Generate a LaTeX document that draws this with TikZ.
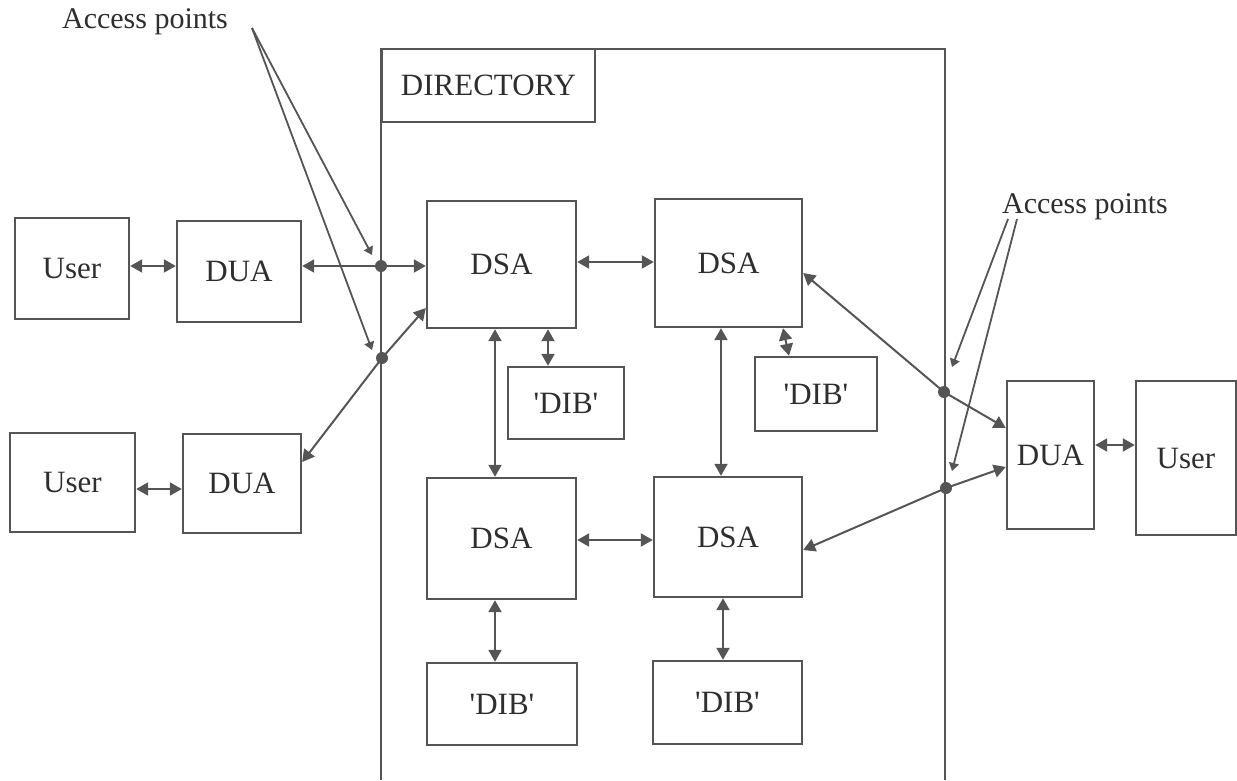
\documentclass[tikz,border=0pt]{standalone}
\usepackage{fontspec}
\setmainfont{Liberation Serif}
\usetikzlibrary{arrows.meta,calc}
\definecolor{ink}{HTML}{555555}
\definecolor{txt}{HTML}{2E2E2E}
\newcommand{\dibname}{\textquotesingle DIB\textquotesingle}
\tikzset{
  blk/.style={draw=ink, line width=2.4pt, text=txt, inner sep=0pt,
              font=\fontsize{31}{34}\selectfont},
  lbl/.style={text=txt, inner sep=0pt, font=\fontsize{30}{33}\selectfont},
  link/.style={draw=ink, line width=2pt,
               {Triangle[length=12pt,width=13pt]}-{Triangle[length=12pt,width=13pt]}},
  ptr/.style={draw=ink, line width=1.8pt, -{Triangle[length=8pt,width=10pt]}},
  apdot/.style={circle, fill=ink, inner sep=0pt, minimum size=12pt},
}
\begin{document}
\begin{tikzpicture}[x=1pt,y=-1pt]
\useasboundingbox (0,0) rectangle (1237,780);

% directory enclosure, open at the bottom
\draw[ink, line width=1.8pt] (381,780) -- (381,49) -- (945,49) -- (945,780);
\node[blk, minimum width=213pt, minimum height=73pt] (dirlabel) at (488.5,85.5) {DIRECTORY};

% users and user agents
\node[blk, minimum width=114pt, minimum height=101pt] (user1) at (72,268.5) {User};
\node[blk, minimum width=124pt, minimum height=101pt] (dua1) at (239,271.5) {DUA};
\node[blk, minimum width=125pt, minimum height=99pt] (user2) at (72.5,482.5) {User};
\node[blk, minimum width=118pt, minimum height=99pt] (dua2) at (242,483.5) {DUA};
\node[blk, minimum width=87pt, minimum height=148pt] (dua3) at (1050.5,455) {DUA};
\node[blk, minimum width=100pt, minimum height=154pt] (user3) at (1186,458) {User};

% system agents
\node[blk, minimum width=149pt, minimum height=127pt] (dsa1) at (501.5,264.5) {DSA};
\node[blk, minimum width=147pt, minimum height=128pt] (dsa2) at (728.5,263) {DSA};
\node[blk, minimum width=149pt, minimum height=121pt] (dsa3) at (501.5,538.5) {DSA};
\node[blk, minimum width=148pt, minimum height=120pt] (dsa4) at (728,537) {DSA};

% information bases
\node[blk, minimum width=116pt, minimum height=72pt] (dib1) at (566,403) {\dibname};
\node[blk, minimum width=122pt, minimum height=74pt] (dib2) at (816,394) {\dibname};
\node[blk, minimum width=150pt, minimum height=82pt] (dib3) at (502,704) {\dibname};
\node[blk, minimum width=149pt, minimum height=83pt] (dib4) at (727.5,702.5) {\dibname};

% access points on the enclosure
\coordinate (apL1) at (381,266);
\coordinate (apL2) at (382,358);
\coordinate (apR1) at (944,392);
\coordinate (apR2) at (946,488);

% links
\draw[link] (user1.east |- 0,266) -- (dua1.west |- 0,266);
\draw[link] (user2.east |- 0,489) -- (dua2.west |- 0,489);
\draw[link] (dua3.east |- 0,445) -- (user3.west |- 0,445);
\draw[link] (dua1.east |- 0,266) -- (apL1) -- (dsa1.west |- 0,266);
\draw[link] (dua2.east |- 0,462) -- (apL2) -- (dsa1.west |- 0,308);
\draw[link] (dsa2.east |- 0,273) -- (apR1) -- (dua3.west |- 0,428);
\draw[link] (dsa4.east |- 0,550) -- (apR2) -- (dua3.west |- 0,467);
\draw[link] (dsa1.east |- 0,262) -- (dsa2.west |- 0,262);
\draw[link] (dsa3.east |- 0,540) -- (dsa4.west |- 0,540);
\draw[link] (dsa1.south -| 495,0) -- (dsa3.north -| 495,0);
\draw[link] (dsa2.south -| 721,0) -- (dsa4.north -| 721,0);
\draw[link] (dsa1.south -| 548,0) -- (dib1.north -| 548,0);
\draw[link] (dsa2.south -| 783,0) -- (dib2.north -| 789,0);
\draw[link] (dsa3.south -| 495,0) -- (dib3.north -| 495,0);
\draw[link] (dsa4.south -| 723,0) -- (dib4.north -| 723,0);

\node[apdot] (dotL1) at (apL1) {};
\node[apdot] (dotL2) at (apL2) {};
\node[apdot] (dotR1) at (apR1) {};
\node[apdot] (dotR2) at (apR2) {};

% access point labels and pointers
\node[lbl] (apLtxt) at (145,22) {Access points};
\node[lbl] (apRtxt) at (1085,207) {Access points};
\coordinate (apLsrc) at (252,28);
\coordinate (apLtipA) at (372,255);
\coordinate (apLtipB) at (372,350);
\coordinate (apRsrcA) at (1008,219);
\coordinate (apRsrcB) at (1017,219);
\coordinate (apRtipA) at (952,367);
\coordinate (apRtipB) at (952,471);
\draw[ptr] (apLsrc) -- (apLtipA);
\draw[ptr] (apLsrc) -- (apLtipB);
\draw[ptr] (apRsrcA) -- (apRtipA);
\draw[ptr] (apRsrcB) -- (apRtipB);
\end{tikzpicture}
\end{document}
